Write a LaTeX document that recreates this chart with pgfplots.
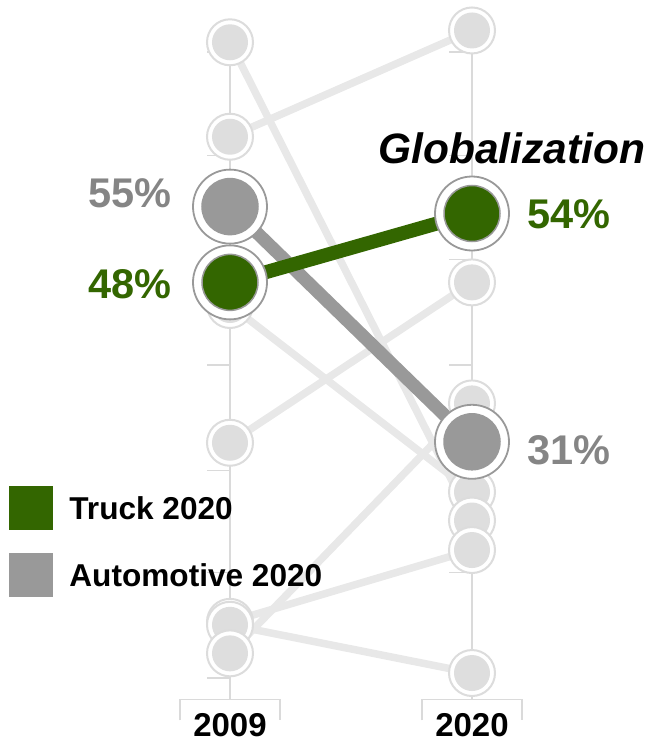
\documentclass[border=0pt]{standalone}
\usepackage{pgfplots}
\pgfplotsset{compat=1.18}
\usepackage{fontspec}
\setmainfont{Liberation Sans}
\definecolor{truckgreen}{HTML}{336600}
\definecolor{autogrey}{HTML}{999999}
\definecolor{labelgrey}{HTML}{858585}
\definecolor{faintline}{HTML}{E8E8E8}
\definecolor{faintfill}{HTML}{DEDEDE}
\definecolor{faintring}{HTML}{DCDCDC}
\definecolor{axisgrey}{HTML}{DADADA}

\pgfdeclareplotmark{faintdot}{%
  \pgfpathcircle{\pgfpointorigin}{23pt}%
  \pgfsetfillcolor{white}\pgfsetstrokecolor{faintring}\pgfsetlinewidth{2pt}%
  \pgfusepath{fill,stroke}%
  \pgfpathcircle{\pgfpointorigin}{18pt}%
  \pgfsetfillcolor{faintfill}%
  \pgfusepath{fill}}
\pgfdeclareplotmark{greendot}{%
  \pgfpathcircle{\pgfpointorigin}{37pt}%
  \pgfsetfillcolor{white}\pgfsetstrokecolor{autogrey}\pgfsetlinewidth{1.8pt}%
  \pgfusepath{fill,stroke}%
  \pgfpathcircle{\pgfpointorigin}{28pt}%
  \pgfsetfillcolor{truckgreen}\pgfsetlinewidth{1.5pt}%
  \pgfusepath{fill,stroke}}
\pgfdeclareplotmark{greydot}{%
  \pgfpathcircle{\pgfpointorigin}{37pt}%
  \pgfsetfillcolor{white}\pgfsetstrokecolor{autogrey}\pgfsetlinewidth{1.8pt}%
  \pgfusepath{fill,stroke}%
  \pgfpathcircle{\pgfpointorigin}{28pt}%
  \pgfsetfillcolor{autogrey}\pgfsetlinewidth{1.5pt}%
  \pgfusepath{fill,stroke}}

\begin{document}
\begin{tikzpicture}
\begin{axis}[
  x=242pt, y=9.84pt,
  xmin=-0.9504, xmax=1.7314,
  ymin=0.4878, ymax=76.098,
  hide axis, clip=false,
  legend style={at={(axis cs:-0.9132,26.71)}, anchor=north west,
    draw=none, fill=none, inner sep=0pt, outer sep=0pt,
    nodes={inner sep=0pt, anchor=base west},
    column sep=17pt, row sep=24pt,
    font=\bfseries\fontsize{31.6}{31.6}\selectfont},
  legend cell align=left,
]
\path (rel axis cs:0,0) rectangle (rel axis cs:1,1);
% axis lines, ticks and brackets
\draw[axisgrey, line width=1.5pt] (axis cs:0,73) -- (axis cs:0,5.0);
\draw[axisgrey, line width=1.5pt] (axis cs:1,73) -- (axis cs:1,5.0);
\draw[axisgrey, line width=1.5pt] (axis cs:-0.207,2.9) -- (axis cs:-0.207,5.0) -- (axis cs:0.207,5.0) -- (axis cs:0.207,2.9);
\draw[axisgrey, line width=1.5pt] (axis cs:0.793,2.9) -- (axis cs:0.793,5.0) -- (axis cs:1.207,5.0) -- (axis cs:1.207,2.9);
\pgfplotsinvokeforeach{70.8,60.3,49.7,39.0,28.3,17.9,7.2}{
  \draw[axisgrey, line width=1.5pt] (axis cs:-0.095,#1) -- (axis cs:0,#1);
  \draw[axisgrey, line width=1.5pt] (axis cs:0.905,#1) -- (axis cs:1,#1);
}
% other segments (light)
\addplot[faintline, line width=7.5pt, forget plot] coordinates {(0,71.8) (1,23.2)};
\addplot[faintline, line width=7.5pt, forget plot] coordinates {(0,62.2) (1,73.0)};
\addplot[faintline, line width=7.5pt, forget plot] coordinates {(0,45.1) (1,26.1)};
\addplot[faintline, line width=7.5pt, forget plot] coordinates {(0,31.1) (1,47.4)};
\addplot[faintline, line width=7.5pt, forget plot] coordinates {(0,12.9) (1,20.2)};
\addplot[faintline, line width=7.5pt, forget plot] coordinates {(0,12.6) (1,7.7)};
\addplot[faintline, line width=7.5pt, forget plot] coordinates {(0,9.7) (1,35.1)};
% light dots
\addplot[only marks, mark=faintdot, forget plot] coordinates {(0,71.8) (0,62.2) (0,45.1) (0,31.1) (0,12.9) (0,12.6) (0,9.7)};
\addplot[only marks, mark=faintdot, forget plot] coordinates {(1,73.0) (1,47.4) (1,35.1) (1,26.1) (1,23.2) (1,20.2) (1,7.7)};
% highlighted series
\addplot[autogrey, line width=13pt, forget plot] coordinates {(0,55.1) (1,31.2)};
\addplot[truckgreen, line width=14pt, forget plot] coordinates {(0,47.4) (1,54.4)};
\addplot[only marks, mark=greydot, forget plot] coordinates {(0,55.1) (1,31.2)};
\addplot[only marks, mark=greendot, forget plot] coordinates {(0,47.4) (1,54.4)};
% labels
\node[inner sep=0pt, anchor=base east, text=labelgrey, font=\bfseries\fontsize{41.5}{41.5}\selectfont] at (axis cs:-0.2397,55.06) {55\%};
\node[inner sep=0pt, anchor=base east, text=truckgreen, font=\bfseries\fontsize{41.5}{41.5}\selectfont] at (axis cs:-0.2397,45.81) {48\%};
\node[inner sep=0pt, anchor=base west, text=truckgreen, font=\bfseries\fontsize{41.5}{41.5}\selectfont] at (axis cs:1.2273,52.83) {54\%};
\node[inner sep=0pt, anchor=base west, text=labelgrey, font=\bfseries\fontsize{41.5}{41.5}\selectfont] at (axis cs:1.2273,28.94) {31\%};
\node[inner sep=0pt, anchor=base west, font=\bfseries\itshape\fontsize{42.5}{42.5}\selectfont] at (axis cs:0.6116,59.53) {Globalization};
\node[inner sep=0pt, anchor=base, font=\bfseries\fontsize{33}{33}\selectfont] at (axis cs:0,1.2) {2009};
\node[inner sep=0pt, anchor=base, font=\bfseries\fontsize{33}{33}\selectfont] at (axis cs:1,1.2) {2020};
% legend
\addlegendimage{legend image code/.code={\fill[truckgreen] (0pt,-10pt) rectangle (43pt,33pt);}}
\addlegendentry{Truck 2020}
\addlegendimage{legend image code/.code={\fill[autogrey] (0pt,-10pt) rectangle (43pt,33pt);}}
\addlegendentry{Automotive 2020}
\end{axis}
\end{tikzpicture}
\end{document}
